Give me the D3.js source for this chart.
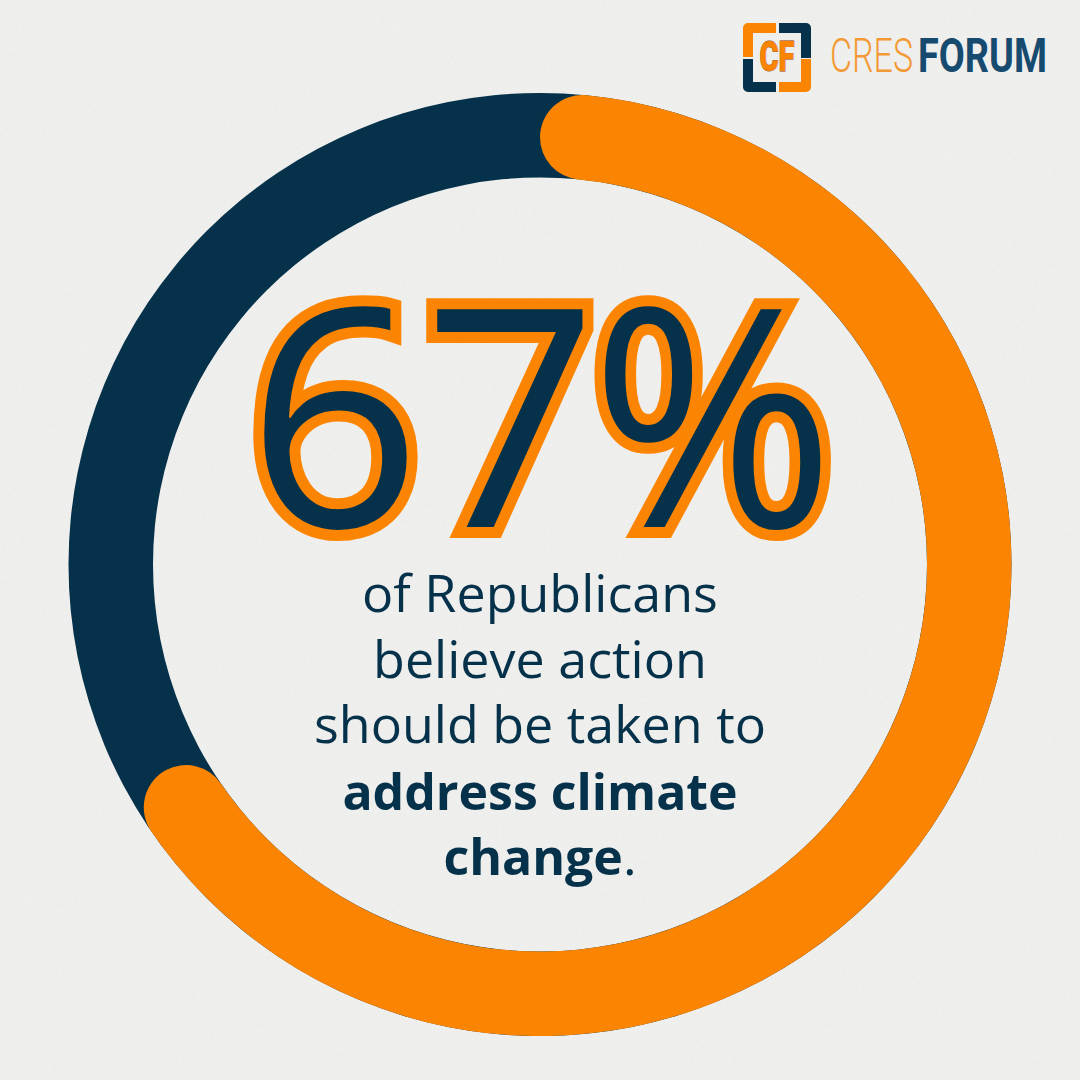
<!DOCTYPE html>
<html>
<head>
<meta charset="utf-8">
<script src="https://cdn.jsdelivr.net/npm/d3@7"></script>
<style>
  html, body { margin: 0; padding: 0; background: #efefed; }
  svg { display: block; }
</style>
</head>
<body>
<div id="chart"></div>
<script>
// ---- data ----
const shareValue = 67;          // % of Republicans
const totalValue = 100;
const valueSuffix = "%";
const labelLines = ["of Republicans", "believe action", "should be taken to"];
const boldLines = ["address climate", "change"];
const boldTail = ".";
const brandLight = "CRES";
const brandBold = "FORUM";
const brandMark = "CF";

// ---- style ----
const W = 1080, H = 1080;
const navy = "#05314a";
const orange = "#fb8503";
const bg = "#efefed";

const svg = d3.select("#chart").append("svg")
  .attr("width", W).attr("height", H);

// paper texture
const defs = svg.append("defs");
const f = defs.append("filter").attr("id", "paper").attr("x", 0).attr("y", 0).attr("width", "100%").attr("height", "100%");
f.append("feTurbulence").attr("type", "fractalNoise").attr("baseFrequency", 0.9).attr("numOctaves", 2).attr("seed", 3).attr("result", "n");
f.append("feColorMatrix").attr("type", "matrix")
  .attr("values", "0 0 0 0 0.55  0 0 0 0 0.55  0 0 0 0 0.55  0 0 0 -1.1 0.55");
svg.append("rect").attr("width", W).attr("height", H).attr("fill", bg);
svg.append("rect").attr("width", W).attr("height", H).attr("filter", "url(#paper)").attr("opacity", 0.35);

// ---- ring ----
const cx = 540, cy = 564.5;
const rOuter = 471.5, rInner = 387;
const angle = d3.scaleLinear().domain([0, totalValue]).range([0, 2 * Math.PI]);

const g = svg.append("g").attr("transform", `translate(${cx},${cy})`);
const arc = d3.arc().innerRadius(rInner).outerRadius(rOuter);

g.append("path")
  .attr("d", arc({ startAngle: angle(0), endAngle: angle(totalValue) }))
  .attr("fill", navy);

g.append("path")
  .attr("d", d3.arc().innerRadius(rInner).outerRadius(rOuter).cornerRadius((rOuter - rInner) / 2)
    ({ startAngle: angle(0), endAngle: angle(shareValue) }))
  .attr("fill", orange);

// ---- big number ----
const bigStyle = sel => sel
  .attr("x", 0).attr("y", 0)
  .attr("font-family", "'Open Sans', sans-serif")
  .attr("font-weight", 400)
  .attr("font-size", 305)
  .attr("fill", navy)
  .attr("stroke", orange)
  .attr("stroke-width", 22)
  .attr("stroke-linejoin", "miter")
  .attr("paint-order", "stroke");

svg.append("text").call(bigStyle)
  .attr("transform", "translate(247,527)")
  .attr("letter-spacing", 2)
  .attr("text-anchor", "start")
  .text(String(shareValue));
svg.append("text").call(bigStyle)
  .attr("transform", "translate(835,527) scale(0.97,1)")
  .attr("text-anchor", "end")
  .text(valueSuffix);

// ---- caption ----
const capFont = "'Open Sans', sans-serif";
const lineY = [612, 678, 743, 810, 875];
labelLines.forEach((t, i) => {
  svg.append("text")
    .attr("x", 540).attr("y", lineY[i])
    .attr("text-anchor", "middle")
    .attr("font-family", capFont)
    .attr("font-size", 52)
    .attr("fill", navy)
    .text(t);
});
boldLines.forEach((t, j) => {
  const tx = svg.append("text")
    .attr("x", 540).attr("y", lineY[labelLines.length + j])
    .attr("text-anchor", "middle")
    .attr("font-family", capFont)
    .attr("font-size", 50)
    .attr("fill", navy);
  tx.append("tspan").attr("font-weight", 700).text(t);
  if (j === boldLines.length - 1) tx.append("tspan").attr("font-weight", 400).attr("font-size", 52).text(boldTail);
});

// ---- logo ----
const logo = svg.append("g");
const sw = 10;
const piece = (d, c) => logo.append("path").attr("d", d).attr("fill", "none")
  .attr("stroke", c).attr("stroke-width", sw).attr("stroke-linejoin", "round");
piece("M748,57 V28 H776", orange);          // top-left
piece("M779,28 H806 V58", navy);            // top-right
piece("M748,59 V87 H776", navy);            // bottom-left
piece("M779,87 H806 V59", orange);          // bottom-right
logo.append("text")
  .attr("x", 777).attr("y", 71)
  .attr("text-anchor", "middle")
  .attr("font-family", "Roboto, sans-serif")
  .attr("font-weight", 900)
  .attr("font-size", 42)
  .attr("fill", orange)
  .attr("stroke", "#8a3d10").attr("stroke-width", 0.8)
  .attr("paint-order", "stroke")
  .attr("textLength", 35).attr("lengthAdjust", "spacingAndGlyphs")
  .text(brandMark);
logo.append("text")
  .attr("x", 830).attr("y", 72)
  .attr("font-family", "Roboto, sans-serif")
  .attr("font-weight", 300)
  .attr("font-size", 48)
  .attr("fill", "#f39a37")
  .attr("textLength", 83).attr("lengthAdjust", "spacingAndGlyphs")
  .text(brandLight);
logo.append("text")
  .attr("x", 918).attr("y", 72)
  .attr("font-family", "Roboto, sans-serif")
  .attr("font-weight", 700)
  .attr("font-size", 48)
  .attr("fill", "#164a6e")
  .attr("textLength", 129).attr("lengthAdjust", "spacingAndGlyphs")
  .text(brandBold);
</script>
</body>
</html>
